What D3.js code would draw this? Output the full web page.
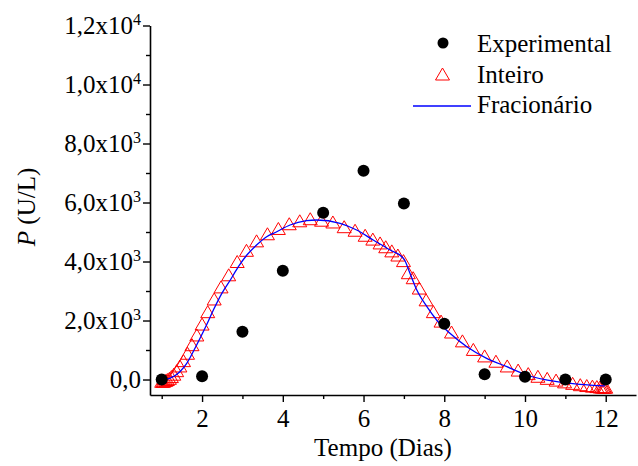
<!DOCTYPE html>
<html><head><meta charset="utf-8">
<script src="https://cdn.jsdelivr.net/npm/d3@7"></script>
</head><body style="margin:0;background:#fff">
<svg id="c" width="638" height="466" style="display:block"></svg>
<script>
// ---- data ----
const expX = [1,2,3,4,5,6,7,8,9,10,11,12];
const expY = [0,110,1620,3690,5655,7080,5970,1890,175,95,0,0];

const intX = [1.00,1.03,1.06,1.10,1.14,1.19,1.24,1.30,1.37,1.45,1.54,1.64,1.75,1.87,2.00,2.14,2.30,2.47,2.66,2.87,3.10,3.35,3.62,3.89,4.16,4.42,4.68,4.96,5.24,5.52,5.79,6.04,6.23,6.41,6.55,6.70,6.85,6.99,7.11,7.23,7.38,7.55,7.73,7.92,8.18,8.45,8.72,9.00,9.28,9.56,9.83,10.08,10.32,10.55,10.77,10.98,11.18,11.37,11.53,11.67,11.78,11.86,11.90,11.94,11.97,12.00];
const intY = [-60,-60,-50,-30,0,40,100,180,300,460,640,890,1180,1510,1880,2300,2730,3140,3550,4000,4380,4700,4940,5120,5280,5380,5450,5400,5340,5180,5060,4890,4760,4630,4500,4360,4220,4030,3620,3450,3100,2700,2300,1980,1610,1310,1020,800,620,460,320,200,110,40,-20,-80,-130,-175,-205,-225,-240,-250,-255,-258,-260,-260];

const fracX = [1.00,1.10,1.21,1.45,1.62,1.78,1.95,2.11,2.28,2.49,2.70,2.90,3.11,3.35,3.60,3.85,4.18,4.59,4.84,5.42,5.83,6.24,6.66,7.00,7.15,7.32,7.57,7.81,8.14,8.56,9.05,9.55,10.04,10.79,11.36,11.98];
const fracY = [0,5,45,264,549,942,1397,1847,2356,2922,3373,3824,4220,4559,4841,5010,5237,5383,5407,5295,5068,4729,4390,4090,3600,3034,2468,2017,1566,1112,719,434,153,-75,-163,-215];

const xMajor = [2,4,6,8,10,12];
const xMinor = [1,3,5,7,9,11];
const yMajor = [0,2000,4000,6000,8000,10000,12000];
const yMinor = [1000,3000,5000,7000,9000,11000];
const yMant = ["0,0","2,0","4,0","6,0","8,0","1,0","1,2"];
const yExp  = [null,"3","3","3","3","4","4"];

const legendNames = ["Experimental","Inteiro","Fracionário"];

// ---- layout ----
const FONT = "Liberation Serif";
const svg = d3.select("#c");
const x = d3.scaleLinear().domain([0.71,12.75]).range([150,636]);
const y = d3.scaleLinear().domain([-525,12000]).range([395,25.5]);
const FS = 25;

function txt(sel){ return sel.attr("font-family",FONT).attr("font-size",FS).attr("fill","#000"); }

// axes
const gx = svg.append("g").attr("transform","translate(0,395)")
  .call(d3.axisBottom(x).tickValues(xMajor).tickSize(7).tickSizeOuter(0).tickFormat(d3.format("d")));
gx.attr("font-family",FONT).attr("font-size",FS);
txt(gx.selectAll("text")).attr("dy",null).attr("y",32);
const gxm = svg.append("g").attr("transform","translate(0,395)")
  .call(d3.axisBottom(x).tickValues(xMinor).tickSize(4).tickSizeOuter(0).tickFormat(""));
gxm.select(".domain").remove();

const gy = svg.append("g").attr("transform","translate(150,0)")
  .call(d3.axisLeft(y).tickValues(yMajor).tickSize(7).tickSizeOuter(0).tickFormat(""));
const gym = svg.append("g").attr("transform","translate(150,0)")
  .call(d3.axisLeft(y).tickValues(yMinor).tickSize(4).tickSizeOuter(0).tickFormat(""));
gym.select(".domain").remove();

[gx,gxm,gy,gym].forEach(g=>{
  g.selectAll("path.domain").attr("stroke","#000").attr("stroke-width",1.6);
  g.selectAll(".tick line").attr("stroke","#000").attr("stroke-width",1.4);
});

// y tick labels with superscripts
yMajor.forEach((v,i)=>{
  const t = txt(svg.append("text")).attr("x",141).attr("y",y(v)+8).attr("text-anchor","end");
  t.append("tspan").text(yMant[i] + (yExp[i] ? "x10" : ""));
  if (yExp[i]) t.append("tspan").attr("dy",-9).attr("font-size",16).text(yExp[i]);
});

// axis titles
txt(svg.append("text")).attr("x",383).attr("y",456).attr("text-anchor","middle").text("Tempo (Dias)");
const yt = txt(svg.append("text")).attr("transform","translate(35,207) rotate(-90)").attr("text-anchor","middle");
yt.append("tspan").attr("font-style","italic").text("P");
yt.append("tspan").text(" (U/L)");

// marks
const tri = "M0,-6L7,6L-7,6Z";
const intData = intX.map((v,i)=>[v,intY[i]]);
svg.append("g").selectAll("path").data(intData).join("path")
  .attr("d",tri).attr("transform",d=>`translate(${x(d[0])},${y(d[1])})`)
  .attr("fill","none").attr("stroke","#ff0000").attr("stroke-width",1);

const fracData = fracX.map((v,i)=>[v,fracY[i]]);
svg.append("path").datum(fracData)
  .attr("d",d3.line().x(d=>x(d[0])).y(d=>y(d[1])).curve(d3.curveMonotoneX))
  .attr("fill","none").attr("stroke","#0000ff").attr("stroke-width",1.3);

const expData = expX.map((v,i)=>[v,expY[i]]);
svg.append("g").selectAll("circle").data(expData).join("circle")
  .attr("cx",d=>x(d[0])).attr("cy",d=>y(d[1])).attr("r",6).attr("fill","#000");

// legend
const lg = svg.append("g");
lg.append("circle").attr("cx",443).attr("cy",43).attr("r",5.5).attr("fill","#000");
lg.append("path").attr("d",tri).attr("transform","translate(442.5,74)")
  .attr("fill","none").attr("stroke","#ff0000").attr("stroke-width",1);
lg.append("line").attr("x1",413).attr("x2",471).attr("y1",106).attr("y2",106)
  .attr("stroke","#0000ff").attr("stroke-width",1.3);
legendNames.forEach((n,i)=>{
  txt(lg.append("text")).attr("x",477).attr("y",52+i*30.5).text(n);
});
</script>
</body></html>
